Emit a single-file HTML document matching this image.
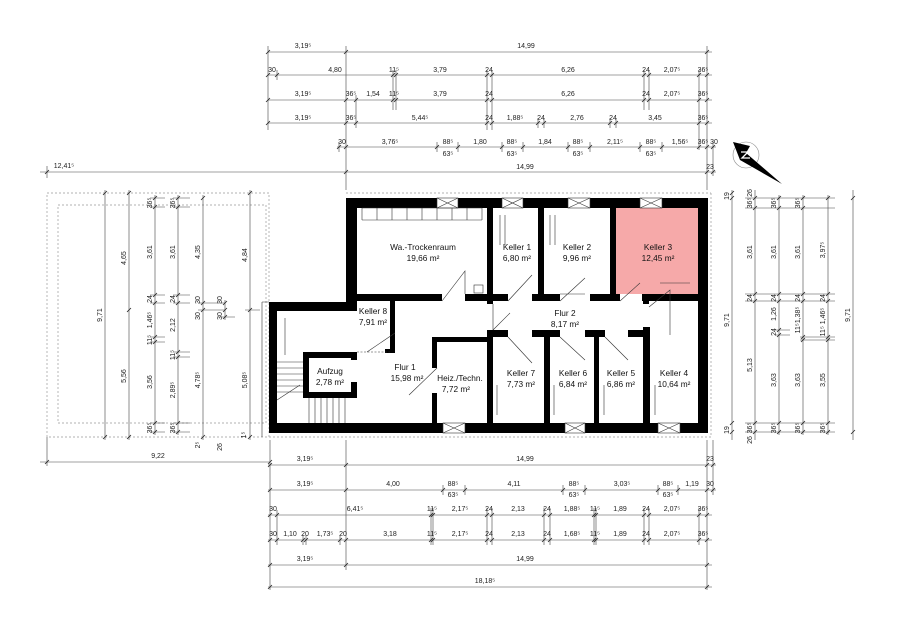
<!DOCTYPE html>
<html><head><meta charset="utf-8"><style>
html,body{margin:0;padding:0;background:#fff}
svg{display:block}
text{font-family:"Liberation Sans",sans-serif;fill:#222}
.d{font-size:7px;text-anchor:middle}
.r{font-size:8.3px;text-anchor:middle;fill:#111}
.dl{stroke:#444;stroke-width:0.6;fill:none}
.tk{stroke:#222;stroke-width:0.8;fill:none}
.w{fill:#000}
.th{stroke:#333;stroke-width:0.6;fill:none}
.dot{stroke:#999;stroke-width:0.7;stroke-dasharray:2 2;fill:none}
</style></head><body>
<svg width="900" height="636" viewBox="0 0 900 636" xmlns="http://www.w3.org/2000/svg">
<rect width="900" height="636" fill="#fff"/>

<rect x="47" y="193" width="222" height="244" class="dot"/>
<rect x="58" y="205" width="208" height="218" class="dot"/>
<path d="M269 437 H713 M711 193 V437 M346 193 H711" class="dot"/>
<path d="M262 302 V437 M262 302 H269" class="th"/>

<rect x="616" y="208" width="83" height="86" fill="#f6a9a9"/>

<g class="w">
<rect x="346" y="198" width="362" height="10"/>
<rect x="698" y="198" width="10" height="235"/>
<rect x="269" y="423" width="439" height="10"/>
<rect x="346" y="198" width="11" height="113"/>
<rect x="269" y="302" width="88" height="9"/>
<rect x="269" y="302" width="8" height="131"/>
<rect x="303" y="352" width="54" height="6"/>
<rect x="303" y="352" width="6" height="46"/>
<rect x="303" y="392" width="54" height="6"/>
<rect x="351" y="382" width="6" height="16"/>
<rect x="351" y="352" width="6" height="8"/>
<rect x="357" y="294" width="85" height="7"/>
<rect x="465" y="294" width="27" height="7"/>
<rect x="487" y="208" width="6" height="96"/>
<rect x="538" y="208" width="6" height="93"/>
<rect x="610" y="208" width="6" height="93"/>
<rect x="493" y="294" width="15" height="7"/>
<rect x="532" y="294" width="28" height="7"/>
<rect x="590" y="294" width="30" height="7"/>
<rect x="642" y="294" width="58" height="7"/>
<rect x="643" y="294" width="6" height="10"/>
<rect x="487" y="330" width="21" height="7"/>
<rect x="532" y="330" width="28" height="7"/>
<rect x="585" y="330" width="20" height="7"/>
<rect x="628" y="330" width="21" height="7"/>
<rect x="487" y="330" width="6" height="93"/>
<rect x="544" y="330" width="6" height="93"/>
<rect x="594" y="330" width="5" height="93"/>
<rect x="643" y="327" width="7" height="96"/>
<rect x="432" y="337" width="55" height="5"/>
<rect x="432" y="337" width="5" height="31"/>
<rect x="432" y="393" width="5" height="30"/>
<rect x="390" y="301" width="5" height="52"/>
<rect x="385" y="349" width="10" height="4"/>
</g>

<g fill="#fff" stroke="#333" stroke-width="0.6">
<rect x="437" y="198" width="21" height="10"/><path d="M437 198 L458 208 M458 198 L437 208"/>
<rect x="502" y="198" width="21" height="10"/><path d="M502 198 L523 208 M523 198 L502 208"/>
<rect x="568" y="198" width="22" height="10"/><path d="M568 198 L590 208 M590 198 L568 208"/>
<rect x="640" y="198" width="22" height="10"/><path d="M640 198 L662 208 M662 198 L640 208"/>
<rect x="443" y="423" width="22" height="10"/><path d="M443 423 L465 433 M465 423 L443 433"/>
<rect x="565" y="423" width="20" height="10"/><path d="M565 423 L585 433 M585 423 L565 433"/>
<rect x="658" y="423" width="22" height="10"/><path d="M658 423 L680 433 M680 423 L658 433"/>
</g>

<g class="th">
<path d="M442 301 L465 271 V294"/>
<path d="M508 301 L532 275"/><path d="M560 301 L585 278 M560 294 H585"/>
<path d="M620 301 L640 283"/><path d="M649 307 L670 290 V335"/>
<path d="M508 337 L532 363"/><path d="M560 337 L585 360"/><path d="M605 337 L628 360"/>
<path d="M493 330 L510 313 M493 304 V330"/>
<path d="M395 333 L367 352"/><path d="M437 368 L409 395"/>
<path d="M357 352 H390" stroke-dasharray="2 1.5"/>
<path d="M362 208 H482 M362 220 H482 M362 208 V220 M377 208 V220 M392 208 V220 M407 208 V220 M422 208 V220 M437 208 V220 M452 208 V220 M467 208 V220 M482 208 V220"/>
<rect x="474" y="285" width="9" height="8"/>
<path d="M277 362 H303 M277 368 H303 M277 374 H303 M277 380 H303 M277 386 H303 M277 392 H303"/>
<path d="M309 398 V423 M315 398 V423 M321 398 V423 M327 398 V423 M333 398 V423 M339 398 V423 M345 398 V423"/>
<path d="M277 400 L300 385"/>
<path d="M285 318 V355 M500 215 V245 M505 215 V245 M550 215 V245 M555 215 V245 M660 283 H690 M497 385 V415 M554 385 V415 M604 385 V415 M655 385 V415"/>
</g>

<text class="r" x="423" y="250">Wa.-Trockenraum</text><text class="r" x="423" y="261">19,66 m²</text>
<text class="r" x="517" y="250">Keller 1</text><text class="r" x="517" y="261">6,80 m²</text>
<text class="r" x="577" y="250">Keller 2</text><text class="r" x="577" y="261">9,96 m²</text>
<text class="r" x="658" y="250">Keller 3</text><text class="r" x="658" y="261">12,45 m²</text>
<text class="r" x="373" y="314">Keller 8</text><text class="r" x="373" y="325">7,91 m²</text>
<text class="r" x="565" y="316">Flur 2</text><text class="r" x="565" y="327">8,17 m²</text>
<text class="r" x="330" y="374">Aufzug</text><text class="r" x="330" y="385">2,78 m²</text>
<text class="r" x="405" y="370">Flur 1</text><text class="r" x="407" y="381">15,98 m²</text>
<text class="r" x="460" y="381">Heiz./Techn.</text><text class="r" x="456" y="392">7,72 m²</text>
<text class="r" x="521" y="376">Keller 7</text><text class="r" x="521" y="387">7,73 m²</text>
<text class="r" x="573" y="376">Keller 6</text><text class="r" x="573" y="387">6,84 m²</text>
<text class="r" x="621" y="376">Keller 5</text><text class="r" x="621" y="387">6,86 m²</text>
<text class="r" x="674" y="376">Keller 4</text><text class="r" x="674" y="387">10,64 m²</text>

<circle cx="746" cy="155" r="13" fill="none" stroke="#888" stroke-width="0.6"/>
<path d="M733 142 L750 146 L746 153 L782 184 L740 160 Z" fill="#000"/>
<path d="M741 152 L748 152 L742 158 L750 158" stroke="#fff" stroke-width="1.3" fill="none"/>

<g class="dl">
<path d="M268 52 H712 M268 75 H712 M268 100 H712 M268 123 H712 M337 147 H716 M40 172 H716"/>
<path d="M268 46 V130 M346 46 V190 M707 46 V190 M277 70 V80 M393 70 V110 M396 70 V110 M487 70 V130 M492 70 V130 M644 70 V110 M649 70 V110 M699 70 V150 M356 95 V128 M538 118 V128 M544 118 V128 M610 118 V128 M616 118 V128 M339 142 V152 M437 142 V152 M458 142 V152 M502 142 V152 M523 142 V152 M568 142 V152 M590 142 V152 M640 142 V152 M662 142 V152 M713 142 V176 M47 166 V178"/>
</g>
<path class="tk" d="M266 54l4-4M344 54l4-4M705 54l4-4
M266 77l4-4M275 77l4-4M391 77l4-4M394 77l4-4M485 77l4-4M490 77l4-4M642 77l4-4M647 77l4-4M697 77l4-4M705 77l4-4
M266 102l4-4M344 102l4-4M354 102l4-4M391 102l4-4M394 102l4-4M485 102l4-4M490 102l4-4M642 102l4-4M647 102l4-4M697 102l4-4M705 102l4-4
M266 125l4-4M344 125l4-4M354 125l4-4M485 125l4-4M490 125l4-4M536 125l4-4M542 125l4-4M608 125l4-4M614 125l4-4M697 125l4-4M705 125l4-4
M337 149l4-4M344 149l4-4M435 149l4-4M456 149l4-4M500 149l4-4M521 149l4-4M566 149l4-4M588 149l4-4M638 149l4-4M660 149l4-4M697 149l4-4M705 149l4-4M711 149l4-4
M45 174l4-4M344 174l4-4M705 174l4-4M711 174l4-4"/>
<g class="d">
<text x="303" y="48">3,19⁵</text><text x="526" y="48">14,99</text>
<text x="272" y="72">30</text><text x="335" y="72">4,80</text><text x="394" y="72">11⁵</text><text x="440" y="72">3,79</text><text x="489" y="72">24</text><text x="568" y="72">6,26</text><text x="646" y="72">24</text><text x="672" y="72">2,07⁵</text><text x="703" y="72">36⁵</text>
<text x="303" y="96">3,19⁵</text><text x="351" y="96">36⁵</text><text x="373" y="96">1,54</text><text x="394" y="96">11⁵</text><text x="440" y="96">3,79</text><text x="489" y="96">24</text><text x="568" y="96">6,26</text><text x="646" y="96">24</text><text x="672" y="96">2,07⁵</text><text x="703" y="96">36⁵</text>
<text x="303" y="120">3,19⁵</text><text x="351" y="120">36⁵</text><text x="420" y="120">5,44⁵</text><text x="489" y="120">24</text><text x="515" y="120">1,88⁵</text><text x="541" y="120">24</text><text x="577" y="120">2,76</text><text x="613" y="120">24</text><text x="655" y="120">3,45</text><text x="703" y="120">36⁵</text>
<text x="342" y="144">30</text><text x="390" y="144">3,76⁵</text><text x="448" y="144">88⁵</text><text x="448" y="156">63⁵</text><text x="480" y="144">1,80</text><text x="512" y="144">88⁵</text><text x="512" y="156">63⁵</text><text x="545" y="144">1,84</text><text x="578" y="144">88⁵</text><text x="578" y="156">63⁵</text><text x="615" y="144">2,11⁵</text><text x="651" y="144">88⁵</text><text x="651" y="156">63⁵</text><text x="680" y="144">1,56⁵</text><text x="703" y="144">36⁵</text><text x="714" y="144">30</text>
<text x="525" y="169">14,99</text><text x="710" y="169">23</text><text x="64" y="168">12,41⁵</text>
</g>

<g class="dl">
<path d="M40 462 H270 M268 465 H716 M268 490 H716 M268 515 H712 M268 540 H712 M268 565 H712 M268 587 H712"/>
<path d="M270 440 V590 M346 440 V570 M707 440 V590 M713 440 V495 M47 437 V466 M443 485 V495 M465 485 V495 M563 485 V495 M585 485 V495 M658 485 V495 M678 485 V495 M277 510 V545 M431 508 V545 M433 508 V545 M487 508 V545 M492 508 V545 M544 508 V545 M550 508 V545 M594 508 V545 M596 508 V545 M644 508 V545 M649 508 V545 M699 508 V545 M303 535 V545 M306 535 V545 M340 535 V545 M346 535 V545"/>
</g>
<path class="tk" d="M45 464l4-4M268 464l4-4
M268 467l4-4M344 467l4-4M705 467l4-4M711 467l4-4
M268 492l4-4M344 492l4-4M441 492l4-4M463 492l4-4M561 492l4-4M583 492l4-4M656 492l4-4M676 492l4-4M705 492l4-4M711 492l4-4
M268 517l4-4M275 517l4-4M429 517l4-4M431 517l4-4M485 517l4-4M490 517l4-4M542 517l4-4M548 517l4-4M592 517l4-4M594 517l4-4M642 517l4-4M647 517l4-4M697 517l4-4M705 517l4-4
M268 542l4-4M275 542l4-4M301 542l4-4M304 542l4-4M338 542l4-4M344 542l4-4M429 542l4-4M431 542l4-4M485 542l4-4M490 542l4-4M542 542l4-4M548 542l4-4M592 542l4-4M594 542l4-4M642 542l4-4M647 542l4-4M697 542l4-4M705 542l4-4
M268 567l4-4M344 567l4-4M705 567l4-4
M268 589l4-4M705 589l4-4"/>
<g class="d">
<text x="158" y="458">9,22</text>
<text x="305" y="461">3,19⁵</text><text x="525" y="461">14,99</text><text x="710" y="461">23</text>
<text x="305" y="486">3,19⁵</text><text x="393" y="486">4,00</text><text x="453" y="486">88⁵</text><text x="453" y="497">63⁵</text><text x="514" y="486">4,11</text><text x="574" y="486">88⁵</text><text x="574" y="497">63⁵</text><text x="622" y="486">3,03⁵</text><text x="668" y="486">88⁵</text><text x="668" y="497">63⁵</text><text x="692" y="486">1,19</text><text x="710" y="486">30</text>
<text x="273" y="511">30</text><text x="355" y="511">6,41⁵</text><text x="432" y="511">11⁵</text><text x="460" y="511">2,17⁵</text><text x="489" y="511">24</text><text x="518" y="511">2,13</text><text x="547" y="511">24</text><text x="572" y="511">1,88⁵</text><text x="595" y="511">11⁵</text><text x="620" y="511">1,89</text><text x="646" y="511">24</text><text x="672" y="511">2,07⁵</text><text x="703" y="511">36⁵</text>
<text x="273" y="536">30</text><text x="290" y="536">1,10</text><text x="305" y="536">20</text><text x="325" y="536">1,73⁵</text><text x="343" y="536">20</text><text x="390" y="536">3,18</text><text x="432" y="536">11⁵</text><text x="460" y="536">2,17⁵</text><text x="489" y="536">24</text><text x="518" y="536">2,13</text><text x="547" y="536">24</text><text x="572" y="536">1,68⁵</text><text x="595" y="536">11⁵</text><text x="620" y="536">1,89</text><text x="646" y="536">24</text><text x="672" y="536">2,07⁵</text><text x="703" y="536">36⁵</text>
<text x="305" y="561">3,19⁵</text><text x="525" y="561">14,99</text>
<text x="485" y="583">18,18⁵</text>
</g>

<g class="dl">
<path d="M105 190 V440 M129 190 V440 M155 195 V435 M178 195 V435 M203 195 V440 M225 300 V320 M250 190 V440"/>
<path d="M150 198 H165 M150 207 H165 M150 295 H165 M150 303 H165 M150 337 H165 M150 342 H165 M150 423 H165 M150 432 H165 M173 198 H190 M173 207 H190 M173 295 H190 M173 303 H190 M173 352 H190 M173 357 H190 M173 423 H190 M173 432 H190 M198 303 H225 M198 310 H225 M220 317 H235 M245 310 H260"/>
</g>
<path class="tk" d="M103 195l4-4M103 439l4-4M127 195l4-4M127 312l4-4M127 439l4-4
M153 200l4-4M153 209l4-4M153 297l4-4M153 305l4-4M153 339l4-4M153 344l4-4M153 425l4-4M153 434l4-4
M176 200l4-4M176 209l4-4M176 297l4-4M176 305l4-4M176 354l4-4M176 359l4-4M176 425l4-4M176 434l4-4
M201 200l4-4M201 305l4-4M201 312l4-4M201 439l4-4M223 305l4-4M223 312l4-4M223 319l4-4
M248 195l4-4M248 312l4-4M248 439l4-4"/>
<g class="d">
<text transform="translate(102,315) rotate(-90)">9,71</text>
<text transform="translate(126,258) rotate(-90)">4,65</text><text transform="translate(126,376) rotate(-90)">5,56</text>
<text transform="translate(152,203) rotate(-90)">36⁵</text><text transform="translate(152,252) rotate(-90)">3,61</text><text transform="translate(152,299) rotate(-90)">24</text><text transform="translate(152,320) rotate(-90)">1,46⁵</text><text transform="translate(152,340) rotate(-90)">11⁵</text><text transform="translate(152,382) rotate(-90)">3,56</text><text transform="translate(152,428) rotate(-90)">36⁵</text>
<text transform="translate(175,203) rotate(-90)">36⁵</text><text transform="translate(175,252) rotate(-90)">3,61</text><text transform="translate(175,299) rotate(-90)">24</text><text transform="translate(175,325) rotate(-90)">2,12</text><text transform="translate(175,355) rotate(-90)">11⁵</text><text transform="translate(175,390) rotate(-90)">2,89⁵</text><text transform="translate(175,428) rotate(-90)">36⁵</text>
<text transform="translate(200,252) rotate(-90)">4,35</text><text transform="translate(200,300) rotate(-90)">30</text><text transform="translate(200,316) rotate(-90)">30</text><text transform="translate(200,380) rotate(-90)">4,78⁵</text>
<text transform="translate(222,300) rotate(-90)">30</text><text transform="translate(222,316) rotate(-90)">30</text>
<text transform="translate(247,255) rotate(-90)">4,84</text><text transform="translate(247,380) rotate(-90)">5,08⁵</text>
<text transform="translate(200,445) rotate(-90)">2⁵</text><text transform="translate(222,447) rotate(-90)">26</text><text transform="translate(246,435) rotate(-90)">1⁵</text>
</g>

<g class="dl">
<path d="M732 190 V440 M755 190 V440 M779 195 V435 M803 195 V435 M828 195 V435 M853 190 V440"/>
<path d="M745 198 H835 M745 208 H835 M745 294 H835 M745 301 H835 M775 330 H790 M775 335 H790 M800 337 H835 M800 340 H835 M745 423 H835 M745 432 H835"/>
</g>
<path class="tk" d="M730 195l4-4M730 200l4-4M730 425l4-4M730 434l4-4
M753 200l4-4M753 210l4-4M753 296l4-4M753 303l4-4M753 425l4-4M753 434l4-4
M777 200l4-4M777 210l4-4M777 296l4-4M777 303l4-4M777 332l4-4M777 337l4-4M777 425l4-4M777 434l4-4
M801 200l4-4M801 210l4-4M801 296l4-4M801 303l4-4M801 339l4-4M801 342l4-4M801 425l4-4M801 434l4-4
M826 200l4-4M826 296l4-4M826 303l4-4M826 339l4-4M826 342l4-4M826 425l4-4M826 434l4-4
M851 200l4-4M851 434l4-4"/>
<g class="d">
<text transform="translate(729,320) rotate(-90)">9,71</text><text transform="translate(729,196) rotate(-90)">19</text><text transform="translate(729,430) rotate(-90)">19</text>
<text transform="translate(752,193) rotate(-90)">26</text><text transform="translate(752,203) rotate(-90)">36⁵</text><text transform="translate(752,252) rotate(-90)">3,61</text><text transform="translate(752,298) rotate(-90)">24</text><text transform="translate(752,365) rotate(-90)">5,13</text><text transform="translate(752,428) rotate(-90)">36⁵</text><text transform="translate(752,440) rotate(-90)">26</text>
<text transform="translate(776,203) rotate(-90)">36⁵</text><text transform="translate(776,252) rotate(-90)">3,61</text><text transform="translate(776,298) rotate(-90)">24</text><text transform="translate(776,314) rotate(-90)">1,26</text><text transform="translate(776,332) rotate(-90)">24</text><text transform="translate(776,380) rotate(-90)">3,63</text><text transform="translate(776,428) rotate(-90)">36⁵</text>
<text transform="translate(800,203) rotate(-90)">36⁵</text><text transform="translate(800,252) rotate(-90)">3,61</text><text transform="translate(800,298) rotate(-90)">24</text><text transform="translate(800,320) rotate(-90)">11⁵1,38⁵</text><text transform="translate(800,380) rotate(-90)">3,63</text><text transform="translate(800,428) rotate(-90)">36⁵</text>
<text transform="translate(825,250) rotate(-90)">3,97⁵</text><text transform="translate(825,298) rotate(-90)">24</text><text transform="translate(825,322) rotate(-90)">11⁵ 1,46⁵</text><text transform="translate(825,380) rotate(-90)">3,55</text><text transform="translate(825,428) rotate(-90)">36⁵</text>
<text transform="translate(850,315) rotate(-90)">9,71</text>
</g>
</svg>
</body></html>
